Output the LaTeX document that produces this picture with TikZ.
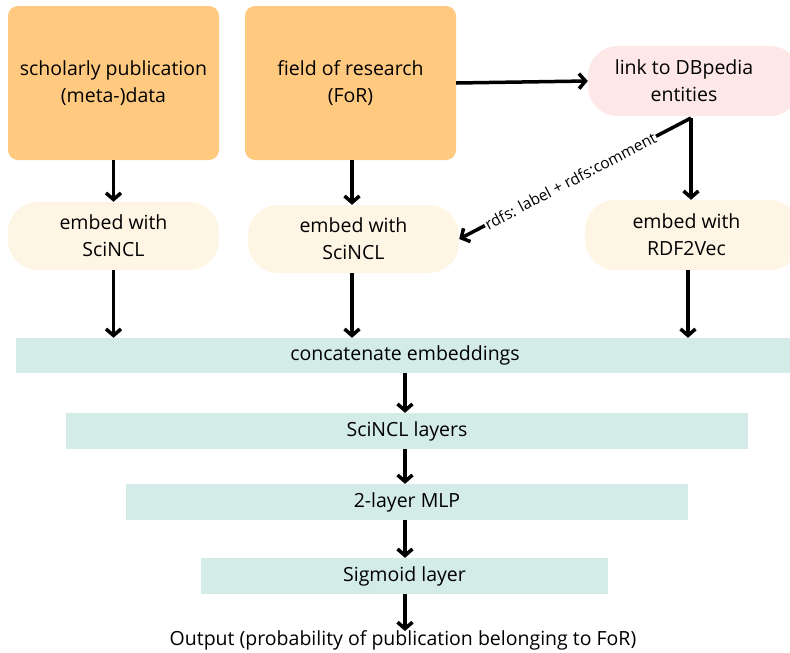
\documentclass[tikz,border=0pt]{standalone}
\usepackage{fontspec}
\setmainfont{Open Sans}
\usetikzlibrary{arrows.meta}
\definecolor{orng}{HTML}{FFC97F}
\definecolor{pinkc}{HTML}{FDE7E7}
\definecolor{cream}{HTML}{FFF5E4}
\definecolor{teal}{HTML}{D3ECE8}
\begin{document}
\begin{tikzpicture}[x=1pt,y=-1pt,
  arr/.style={line width=3.5pt,-{Straight Barb[length=6.5pt,width=15pt,line width=3.5pt]}},
  obox/.style={rectangle, rounded corners=10pt, fill=orng, inner sep=0pt, align=center, minimum width=211pt, minimum height=154pt, font=\fontsize{19.5}{27}\selectfont},
  pill/.style={rectangle, rounded corners=30pt, inner sep=0pt, align=center, minimum height=68pt, font=\fontsize{19.5}{27}\selectfont},
  layer/.style={rectangle, fill=teal, inner sep=0pt, align=center, minimum height=36pt, font=\fontsize{19.5}{22}\selectfont},
  lbl/.style={font=\fontsize{15.5}{17}\selectfont, fill=white, inner sep=1pt, sloped}]
\useasboundingbox (0,0) rectangle (790,653);
\clip (0,0) rectangle (790,653);
\node[obox] (a) at (113.5,83) {scholarly publication\\(meta-)data};
\node[obox] (b) at (350.5,83) {field of research\\(FoR)};
\node[pill, fill=pinkc, minimum width=212pt, minimum height=70pt] (c) at (694,81) {\hspace*{-20pt}link to DBpedia\\\hspace*{-20pt}entities};
\node[pill, fill=cream, minimum width=211pt] (d) at (113.5,236) {embed with\\SciNCL};
\node[pill, fill=cream, minimum width=211pt] (e) at (353.5,239) {embed with\\SciNCL};
\node[pill, fill=cream, minimum width=215pt, minimum height=70pt] (f) at (692.5,235) {\hspace*{-12pt}embed with\\\hspace*{-12pt}RDF2Vec};
\node[layer, minimum width=778pt, minimum height=35pt] (g) at (405,355.5) {concatenate embeddings};
\node[layer, minimum width=682pt] (h) at (407,431) {SciNCL layers};
\node[layer, minimum width=562pt] (i) at (407,502) {2-layer MLP};
\node[layer, minimum width=407pt] (j) at (404.5,576) {Sigmoid layer};
\node[font=\fontsize{19.5}{22}\selectfont, inner sep=2pt] (out) at (403,640) {Output (probability of publication belonging to FoR)};
\coordinate (cb) at (691,118);
\draw[arr] (a.south) -- (d.north);
\draw[arr] ([xshift=1.5pt]b.south) -- ([xshift=1.5pt]b.south |- e.north);
\draw[arr] (d.south) -- (d.south |- g.north);
\draw[arr] ([xshift=-1.5pt]e.south) -- ([xshift=-1.5pt]e.south |- g.north);
\draw[arr] ([xshift=-4.5pt]f.south) -- ([xshift=-4.5pt]f.south |- g.north);
\draw[arr] (b.east) -- (c.west);
\draw[arr] (cb) -- (cb |- f.north);
\draw[arr] (cb) -- node[lbl, pos=0.52] {rdfs: label + rdfs:comment} (e.east);
\draw[arr] (g.south) -- (g.south |- h.north);
\draw[arr] (h.south -| g.south) -- (i.north -| g.south);
\draw[arr] (i.south -| g.south) -- (j.north -| g.south);
\draw[arr] (j.south -| g.south) -- ([yshift=-3pt]out.north -| g.south);
\end{tikzpicture}
\end{document}
